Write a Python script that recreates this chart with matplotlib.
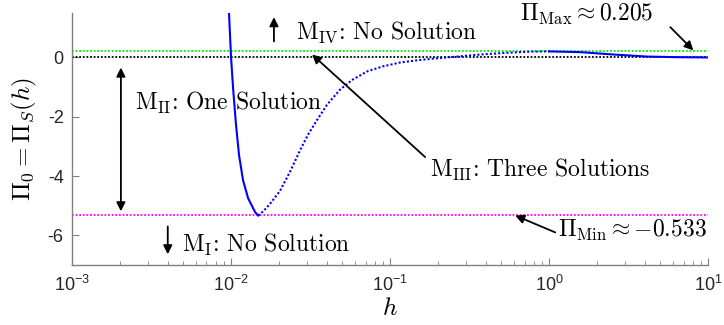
import matplotlib.pyplot as plt

plt.rcParams['mathtext.fontset'] = 'cm'
plt.rcParams['font.family'] = 'Liberation Sans'

# curve
h_stable_left = [0.0094, 0.0097, 0.0100, 0.01031, 0.01074, 0.01122, 0.01189,
                 0.0128, 0.01375, 0.01426, 0.0148]
pi_stable_left = [2.3, 1.52, 0.0, -1.08, -2.27, -3.29, -4.14, -4.75, -5.08,
                  -5.24, -5.33]

h_unstable = [0.0148, 0.0160, 0.0175, 0.0203, 0.0235, 0.0272, 0.0305, 0.0348,
              0.040, 0.0485, 0.058, 0.0717, 0.090, 0.1156, 0.15, 0.186, 0.25,
              0.37, 0.55, 0.75, 1.0]
pi_unstable = [-5.33, -5.18, -4.95, -4.50, -3.85, -3.12, -2.60, -2.10,
               -1.60, -1.08, -0.75, -0.47, -0.30, -0.17, -0.09, -0.04, 0.02,
               0.10, 0.16, 0.195, 0.205]

h_stable_right = [1.0, 1.57, 2.53, 4.13, 6.3, 10.0]
pi_stable_right = [0.205, 0.18, 0.10, 0.03, 0.01, 0.0]

pi_max = 0.205
pi_min = -5.33

fig = plt.figure(figsize=(7.24, 3.25), dpi=100)
ax = fig.add_axes([0.0994, 0.1846, 0.8790, 0.7754])

ax.axhline(pi_max, color='#00ee00', ls=(0, (1, 1)), lw=1.3)
ax.axhline(0, color='black', ls=(0, (1, 1)), lw=1.3)
ax.axhline(pi_min, color='#ff00ff', ls=(0, (1, 1)), lw=1.3)

ax.plot(h_stable_left, pi_stable_left, color='#0000ff', lw=1.5)
ax.plot(h_unstable, pi_unstable, color='#0000ff', lw=1.5, ls=(0, (1, 1)))
ax.plot(h_stable_right, pi_stable_right, color='#0000ff', lw=1.5)

ax.set_xscale('log')
ax.set_xlim(1e-3, 1e1)
ax.set_ylim(-7, 1.5)
ax.set_yticks([0, -2, -4, -6])
ax.set_yticklabels(['0', '-2', '-4', '-6'])
ax.set_xticks([1e-3, 1e-2, 1e-1, 1e0, 1e1])
ax.set_xticklabels([r'$\mathregular{10^{-3}}$', r'$\mathregular{10^{-2}}$',
                    r'$\mathregular{10^{-1}}$', r'$\mathregular{10^{0}}$',
                    r'$\mathregular{10^{1}}$'])

for s in ['top', 'right']:
    ax.spines[s].set_visible(False)
for s in ['left', 'bottom']:
    ax.spines[s].set_color('#808080')
    ax.spines[s].set_linewidth(1.0)
ax.tick_params(which='both', direction='in', colors='#808080', labelcolor='#262626',
               labelsize=13)
ax.tick_params(which='major', length=5)
ax.tick_params(which='minor', length=3)
ax.tick_params(axis='x', pad=7)
ax.tick_params(axis='y', pad=6)

ax.set_xlabel(r'$h$', fontsize=18, labelpad=1)
ax.set_ylabel(r'$\Pi_0 = \Pi_S(h)$', fontsize=18, labelpad=6)

txt = dict(fontsize=17, family='cmr10', va='center', ha='left')
arr = dict(arrowstyle='-|>', color='black', lw=1.3, mutation_scale=13,
           shrinkA=0, shrinkB=0)

# M_IV
ax.annotate('', xy=(0.0186, 1.36), xytext=(0.0186, 0.54), arrowprops=arr)
ax.text(0.0256, 0.85, r'M$_{\rm IV}$: No Solution', **txt)

# M_II
ax.annotate('', xy=(0.00203, -0.34), xytext=(0.00203, -5.19),
            arrowprops=dict(arr, arrowstyle='<|-|>'))
ax.text(0.00249, -1.53, r'M$_{\rm II}$: One Solution', **txt)

# M_I
ax.annotate('', xy=(0.0040, -6.64), xytext=(0.0040, -5.70), arrowprops=arr)
ax.text(0.00492, -6.34, r'M$_{\rm I}$: No Solution', **txt)

# M_III
ax.annotate('', xy=(0.0323, 0.10), xytext=(0.166, -3.36), arrowprops=arr)
ax.text(0.179, -3.80, r'M$_{\rm III}$: Three Solutions', **txt)

# Pi max
ax.annotate('', xy=(8.05, 0.24), xytext=(5.77, 1.02), arrowprops=arr)
ax.text(0.658, 1.46, r'$\Pi_{\rm Max} \approx 0.205$', **txt)

# Pi min
ax.annotate('', xy=(0.611, -5.33), xytext=(1.09, -5.90), arrowprops=arr)
ax.text(1.14, -5.83, r'$\Pi_{\rm Min} \approx {-0.533}$', **txt)

fig.savefig('out.png', dpi=100)
